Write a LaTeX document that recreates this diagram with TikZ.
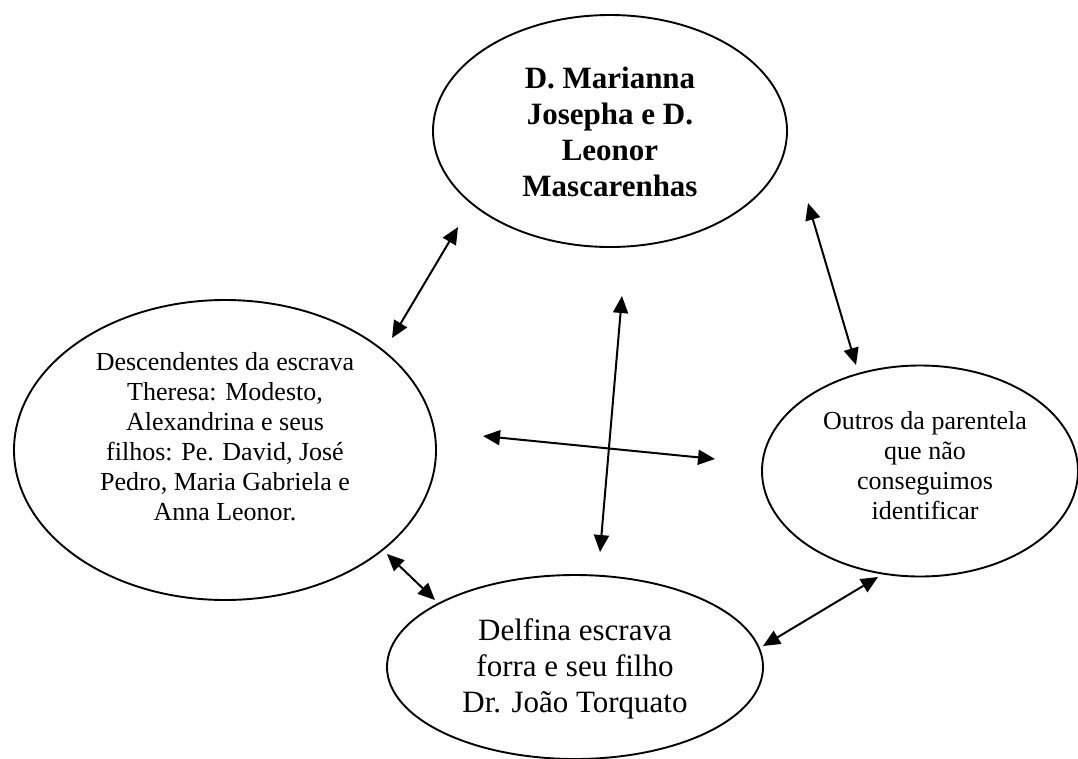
\documentclass[tikz,border=0pt]{standalone}
\usepackage{fontspec}
\setmainfont{Liberation Serif}
\usetikzlibrary{shapes.geometric,arrows.meta}
\begin{document}
\begin{tikzpicture}[x=1pt,y=-1pt,
  bubble/.style={draw, ellipse, line width=1.9pt, inner sep=0pt},
  body/.style={align=center, inner sep=0pt, font=\fontsize{26}{30}\selectfont},
  big/.style={align=center, inner sep=0pt, font=\fontsize{31}{36}\selectfont},
  link/.style={line width=2pt,
    {Triangle[length=17pt,width=15pt]}-{Triangle[length=17pt,width=15pt]}}]
\useasboundingbox (0,0) rectangle (1078,758);

% the four groups of the family network
\node[bubble, minimum width=354pt, minimum height=232pt] (mar) at (610,131) {};
\node[bubble, minimum width=422pt, minimum height=300pt] (desc) at (225,450) {};
\node[bubble, minimum width=316pt, minimum height=211pt] (outros) at (920,471) {};
\node[bubble, minimum width=376pt, minimum height=184pt] (delf) at (575,667) {};

\node[big, font=\bfseries\fontsize{31}{36}\selectfont] (mar-txt) at (610,132)
  {D. Marianna\\Josepha e D.\\Leonor\\Mascarenhas};
\node[body] (desc-txt) at (225,437)
  {Descendentes da escrava\\Theresa: Modesto,\\Alexandrina e seus\\filhos: Pe. David, Jos\'e\\Pedro, Maria Gabriela e\\Anna Leonor.};
\node[body] (outros-txt) at (925,466)
  {Outros da parentela\\que n\~ao\\conseguimos\\identificar};
\node[big] (delf-txt) at (575,669)
  {Delfina escrava\\forra e seu filho\\Dr. Jo\~ao Torquato};

% end points of the relations
\coordinate (md-a) at (458,227);  \coordinate (md-b) at (392,338);
\coordinate (do-a) at (483,436);  \coordinate (do-b) at (715,459);
\coordinate (mf-a) at (622,296);  \coordinate (mf-b) at (600,552);
\coordinate (df-a) at (387,554);  \coordinate (df-b) at (435,600);
\coordinate (of-a) at (878,577);  \coordinate (of-b) at (763,646);
\coordinate (mo-a) at (808,203);  \coordinate (mo-b) at (856,365);

\draw[link] (md-a) -- (md-b);
\draw[link] (do-a) -- (do-b);
\draw[link] (mf-a) -- (mf-b);
\draw[link] (df-a) -- (df-b);
\draw[link] (of-a) -- (of-b);
\draw[link] (mo-a) -- (mo-b);
\end{tikzpicture}
\end{document}
